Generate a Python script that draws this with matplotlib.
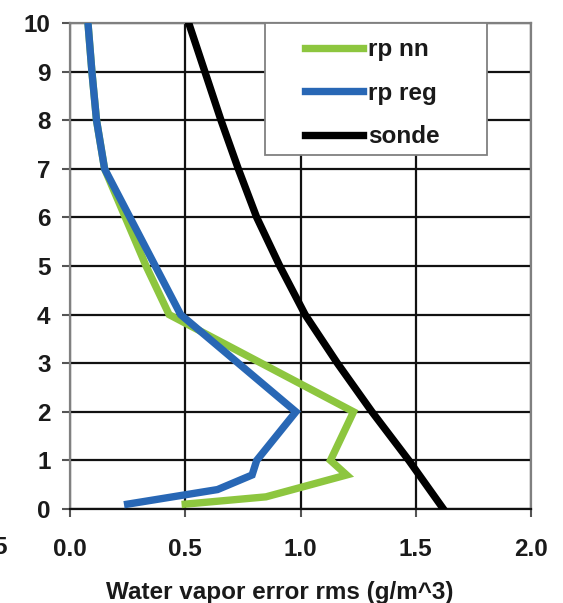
import matplotlib
matplotlib.use("Agg")
import matplotlib.pyplot as plt
from matplotlib.patches import Rectangle

# Data (height km vs. rms error g/m^3)
nn_height = [0.1, 0.25, 0.7, 1.0, 2.0, 4.0, 5.0, 6.0, 7.0, 8.0, 9.0, 10.0]
nn_rms = [0.50, 0.85, 1.20, 1.13, 1.23, 0.43, 0.33, 0.24, 0.15, 0.115, 0.095, 0.078]

reg_height = [0.1, 0.4, 0.7, 1.0, 2.0, 4.0, 5.0, 6.0, 7.0, 8.0, 9.0, 10.0]
reg_rms = [0.25, 0.64, 0.79, 0.81, 0.98, 0.48, 0.37, 0.26, 0.15, 0.115, 0.095, 0.078]

sonde_height = [0, 1, 2, 3, 4, 5, 6, 7, 8, 9, 10]
sonde_rms = [1.62, 1.47, 1.31, 1.16, 1.02, 0.91, 0.81, 0.73, 0.655, 0.585, 0.515]

series_labels = ["rp nn", "rp reg", "sonde"]
x_ticks = [0.0, 0.5, 1.0, 1.5, 2.0]
x_ticklabels = ["0.0", "0.5", "1.0", "1.5", "2.0"]
y_ticks = list(range(0, 11))
x_label = "Water vapor error rms (g/m^3)"

plt.rcParams['font.family'] = ['Liberation Sans', 'DejaVu Sans']
plt.rcParams['font.weight'] = 'bold'

W, H = 563, 603
fig = plt.figure(figsize=(W / 100, H / 100), dpi=100)
ax = fig.add_axes([70 / W, (H - 509) / H, (531 - 70) / W, (509 - 23) / H])

green = "#8DC63F"
blue = "#2867B5"
txt = "#1a1a1a"
FS = 17.5

ax.plot(nn_rms, nn_height, color=green, lw=5.3, solid_joinstyle='miter', label=series_labels[0], zorder=3)
ax.plot(reg_rms, reg_height, color=blue, lw=5.3, solid_joinstyle='miter', label=series_labels[1], zorder=4)
ax.plot(sonde_rms, sonde_height, color="black", lw=5.3, label=series_labels[2], zorder=5)

ax.set_xlim(0, 2.0)
ax.set_ylim(0, 10)
ax.set_xticks(x_ticks)
ax.set_xticklabels(x_ticklabels)
ax.set_yticks(y_ticks)
ax.grid(True, color="#111111", lw=1.6, zorder=1)
ax.set_axisbelow(True)

for s in ['left', 'top', 'right']:
    ax.spines[s].set_color("#808080")
    ax.spines[s].set_linewidth(1.6)
ax.spines['bottom'].set_color("#111111")
ax.spines['bottom'].set_linewidth(1.6)

ax.tick_params(axis='both', direction='out', length=6, width=1.5, color="#555555",
               labelsize=FS, labelcolor=txt)
ax.tick_params(axis='x', pad=15)
ax.tick_params(axis='y', pad=8)
for lab in ax.get_xticklabels() + ax.get_yticklabels():
    lab.set_fontweight('bold')

ax.set_xlabel(x_label, fontsize=FS, fontweight='bold', color=txt, labelpad=13)
ax.xaxis.set_label_coords(0.455, -0.148)

# legend box
box = Rectangle((0.423, 0.728), 0.482, 0.272, transform=ax.transAxes,
                facecolor='white', edgecolor='#808080', lw=1.3, zorder=6)
ax.add_patch(box)
leg = ax.legend(loc='upper left', bbox_to_anchor=(0.51, 0.969), frameon=False,
                handlelength=2.4, handletextpad=0.2, labelspacing=0.85,
                borderaxespad=0, borderpad=0, prop={'weight': 'bold', 'size': FS})
leg.set_zorder(7)
for t in leg.get_texts():
    t.set_color(txt)

# partially cut-off tick label from a neighbouring panel
fig.text(-7 / W, (H - 548) / H, "5", fontsize=FS, fontweight='bold', color=txt, va='center', ha='left')

fig.savefig("out.png", dpi=100)
